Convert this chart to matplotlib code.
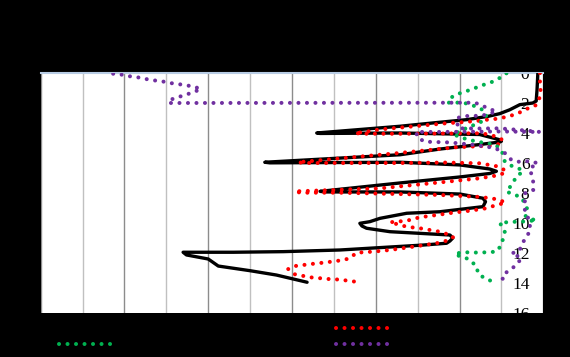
import matplotlib
matplotlib.use("Agg")
import matplotlib.pyplot as plt
from matplotlib.ticker import MultipleLocator

# ---- data (x value, depth) ----
black_x = [11.87, 11.85, 11.83, 11.75, 11.44, 11.20, 10.96, 10.68, 10.17, 9.36, 8.58, 6.59, 6.67, 8.58,
           10.48, 10.96, 11.00, 10.96, 10.48, 9.53, 8.58, 5.35, 5.47, 8.58, 10.01, 10.72, 10.88, 10.72,
           10.01, 8.58, 6.67, 6.79, 8.58, 10.01, 10.56, 10.62, 10.56, 9.53, 8.74, 8.10, 7.86, 7.62, 7.67,
           7.78, 8.34, 9.77, 9.84, 9.77, 9.69, 9.13, 7.14, 5.79, 4.60, 3.40, 3.48, 4.00, 4.24, 5.00, 5.63, 6.36]
black_d = [0.0, 1.13, 1.87, 2.0, 2.11, 2.45, 2.71, 2.89, 3.11, 3.33, 3.55, 4.0, 4.03, 4.0,
           4.1, 4.45, 4.55, 4.6, 4.77, 5.07, 5.45, 5.95, 5.99, 5.95, 6.13, 6.4, 6.55, 6.7,
           6.93, 7.33, 7.89, 7.93, 7.93, 8.07, 8.35, 8.58, 8.91, 9.25, 9.35, 9.69, 9.91, 10.02, 10.2,
           10.35, 10.58, 10.8, 11.0, 11.2, 11.35, 11.47, 11.8, 11.91, 11.95, 11.95, 12.13, 12.4, 12.87, 13.18, 13.47, 13.95]

red_x = [11.92, 11.92, 11.94, 11.92, 11.84, 11.64, 11.48, 11.28, 11.08, 10.84, 10.60, 10.41, 10.01, 9.69,
         8.46, 8.05, 7.69, 7.50, 7.66, 8.58, 10.48, 10.68, 10.88, 11.00, 11.04, 10.92, 10.72, 10.48,
         9.93, 9.29, 8.50, 6.14, 6.30, 8.58, 9.69, 10.48, 10.96, 11.12, 10.96, 10.48, 9.69, 8.89, 8.10,
         6.07, 6.20, 7.14, 9.53, 10.41, 10.76, 10.96, 11.10, 10.88, 10.64, 10.25, 9.85, 9.45, 9.05, 8.74,
         8.34, 8.74, 9.05, 9.53, 9.77, 9.85, 9.77, 9.45, 8.89, 8.34, 7.94, 7.54, 7.38, 7.22, 6.83, 6.47,
         6.27, 6.07, 5.91, 6.07, 6.27, 6.43, 6.63, 6.83, 7.02, 7.22, 7.38, 7.58]
red_d = [0.0, 0.8, 1.3, 1.58, 2.13, 2.35, 2.58, 2.8, 2.95, 3.07, 3.13, 3.2, 3.29, 3.35,
         3.67, 3.78, 3.95, 4.0, 4.05, 4.05, 4.02, 4.09, 4.25, 4.42, 4.58, 4.75, 4.85, 4.88,
         4.95, 5.13, 5.35, 5.95, 6.0, 6.0, 5.97, 6.02, 6.25, 6.58, 6.8, 7.02, 7.25, 7.47, 7.69,
         7.89, 7.98, 7.98, 8.13, 8.25, 8.35, 8.47, 8.65, 8.8, 9.02, 9.18, 9.31, 9.47, 9.62, 9.85,
         9.95, 10.25, 10.35, 10.58, 10.8, 10.93, 11.13, 11.35, 11.58, 11.8, 11.91, 11.98, 12.35, 12.47, 12.62, 12.73,
         12.8, 12.87, 13.07, 13.42, 13.53, 13.62, 13.67, 13.73, 13.75, 13.8, 13.87, 13.93]

green_x = [11.12, 10.96, 10.79, 10.63, 10.44, 10.25, 10.06, 9.89, 9.77, 9.72, 9.84, 10.05, 10.29, 10.48,
           10.60, 10.64, 10.52, 10.29, 10.06, 9.85, 10.05, 10.25, 10.44, 10.64, 10.84, 11.00, 11.04, 11.08,
           11.25, 11.44, 11.52, 11.36, 11.30, 11.24, 11.12, 11.46, 11.56, 11.61, 11.56, 11.70, 11.84, 11.60,
           11.37, 11.15, 10.96, 11.08, 11.04, 11.00, 10.88, 10.68, 10.48, 10.31, 10.13, 9.93, 9.89, 10.09,
           10.25, 10.41, 10.44, 10.58, 10.76]
green_d = [0.02, 0.33, 0.58, 0.73, 0.93, 1.13, 1.3, 1.47, 1.7, 1.97, 2.0, 1.95, 2.13, 2.35,
           2.53, 2.91, 3.25, 3.53, 3.8, 4.09, 4.31, 4.47, 4.58, 4.69, 4.75, 5.13, 5.47, 5.9,
           6.2, 6.4, 6.58, 6.87, 7.2, 7.47, 7.91, 8.27, 8.67, 9.0, 9.5, 9.75, 9.8, 9.9,
           9.91, 9.95, 9.97, 10.58, 11.02, 11.47, 11.91, 11.95, 11.97, 11.97, 11.95, 12.02, 12.13, 12.25,
           12.47, 12.91, 13.35, 13.65, 13.87]

purple_x = [1.73, 1.93, 2.13, 2.32, 2.51, 2.70, 2.89, 3.09, 3.27, 3.46, 3.64, 3.82, 3.64, 3.46, 3.27, 3.10,
            3.05, 10.37, 10.65, 10.88, 10.53, 10.13, 9.94, 9.96, 10.48, 10.96, 11.44, 11.92, 10.96, 9.53,
            8.96, 9.00, 9.17, 9.77, 10.37, 10.84, 11.08, 11.24, 11.44, 11.68, 11.87, 11.68, 11.72, 11.76,
            11.76, 11.56, 11.56, 11.56, 11.63, 11.68, 11.68, 11.56, 11.48, 11.40, 11.24, 11.48, 11.36,
            11.20, 11.03, 11.03]
purple_d = [0.05, 0.11, 0.22, 0.29, 0.4, 0.49, 0.55, 0.67, 0.73, 0.82, 0.89, 1.07, 1.29, 1.45, 1.62, 1.78,
            2.0, 1.98, 2.31, 2.58, 2.85, 2.87, 3.0, 3.69, 3.7, 3.69, 3.8, 3.93, 3.9, 3.93,
            3.93, 4.31, 4.58, 4.63, 4.8, 5.0, 5.33, 5.8, 5.93, 5.87, 6.02, 6.35, 6.8, 7.27,
            7.8, 8.02, 8.67, 9.13, 9.6, 10.13, 10.58, 11.02, 11.58, 11.91, 12.02, 12.33, 12.8,
            13.13, 13.47, 13.91]

series_labels = ["Series1", "Series2", "Series3", "Series4"]
depth_ticks = [0, 2, 4, 6, 8, 10, 12, 14, 16]
depth_tick_labels = ["0", "2", "4", "6", "8", "10", "12", "14", "16"]

# ---- figure ----
fig = plt.figure(figsize=(5.70, 3.57), dpi=100, facecolor="black")
ax = fig.add_axes([40.7 / 570, 1 - 313 / 357, (543.3 - 40.7) / 570, (313 - 73) / 357])
ax.set_facecolor("white")

dot = dict(linestyle=(0, (0.01, 2.1)), linewidth=2.9, dash_capstyle="round")
l_black, = ax.plot(black_x, black_d, color="black", linewidth=2.4, solid_joinstyle="round",
                   solid_capstyle="round", label=series_labels[0], zorder=3)
l_red, = ax.plot(red_x, red_d, color="#FF0000", label=series_labels[1], zorder=4, **dot)
l_green, = ax.plot(green_x, green_d, color="#00B050", label=series_labels[2], zorder=4, **dot)
l_purple, = ax.plot(purple_x, purple_d, color="#7030A0", label=series_labels[3], zorder=4, **dot)

ax.set_xlim(0, 12)
ax.set_ylim(16, 0)

ax.xaxis.set_major_locator(MultipleLocator(2))
ax.xaxis.set_minor_locator(MultipleLocator(1))
ax.grid(True, axis="x", which="major", color="#8c8c8c", linewidth=1.0, zorder=0)
ax.grid(True, axis="x", which="minor", color="#c0c0c0", linewidth=1.0, zorder=0)
ax.set_axisbelow(True)
ax.tick_params(axis="x", which="both", length=0, labelbottom=False)

for s in ["left", "right", "bottom"]:
    ax.spines[s].set_visible(False)
ax.spines["top"].set_color("#b8cce4")
ax.spines["top"].set_linewidth(1.5)

# y axis placed near the right edge, labels to its left (clipped by plot area)
ax.spines["left"].set_position(("axes", 0.978))
ax.set_yticks(depth_ticks)
ax.set_yticklabels(depth_tick_labels, fontfamily="Liberation Serif", fontsize=12.5, color="black")
ax.tick_params(axis="y", length=0, pad=2)

fig.canvas.draw()
for t in ax.yaxis.get_major_ticks():
    t.label1.set_clip_on(True)
    t.label1.set_clip_box(ax.bbox)

# legend at bottom (text black on black)
W, H = 570.0, 357.0
leg_kw = dict(loc="upper left", frameon=False, borderpad=0, borderaxespad=0, handlelength=4.6,
              labelspacing=0.3, fontsize=9, labelcolor="black")
leg1 = fig.legend([l_black, l_green], [series_labels[0], series_labels[2]],
                  bbox_to_anchor=(59 / W, 1 - 322 / H), **leg_kw)
leg2 = fig.legend([l_red, l_purple], [series_labels[1], series_labels[3]],
                  bbox_to_anchor=(336 / W, 1 - 322 / H), **leg_kw)

fig.savefig("out.png", dpi=100, facecolor="black")
